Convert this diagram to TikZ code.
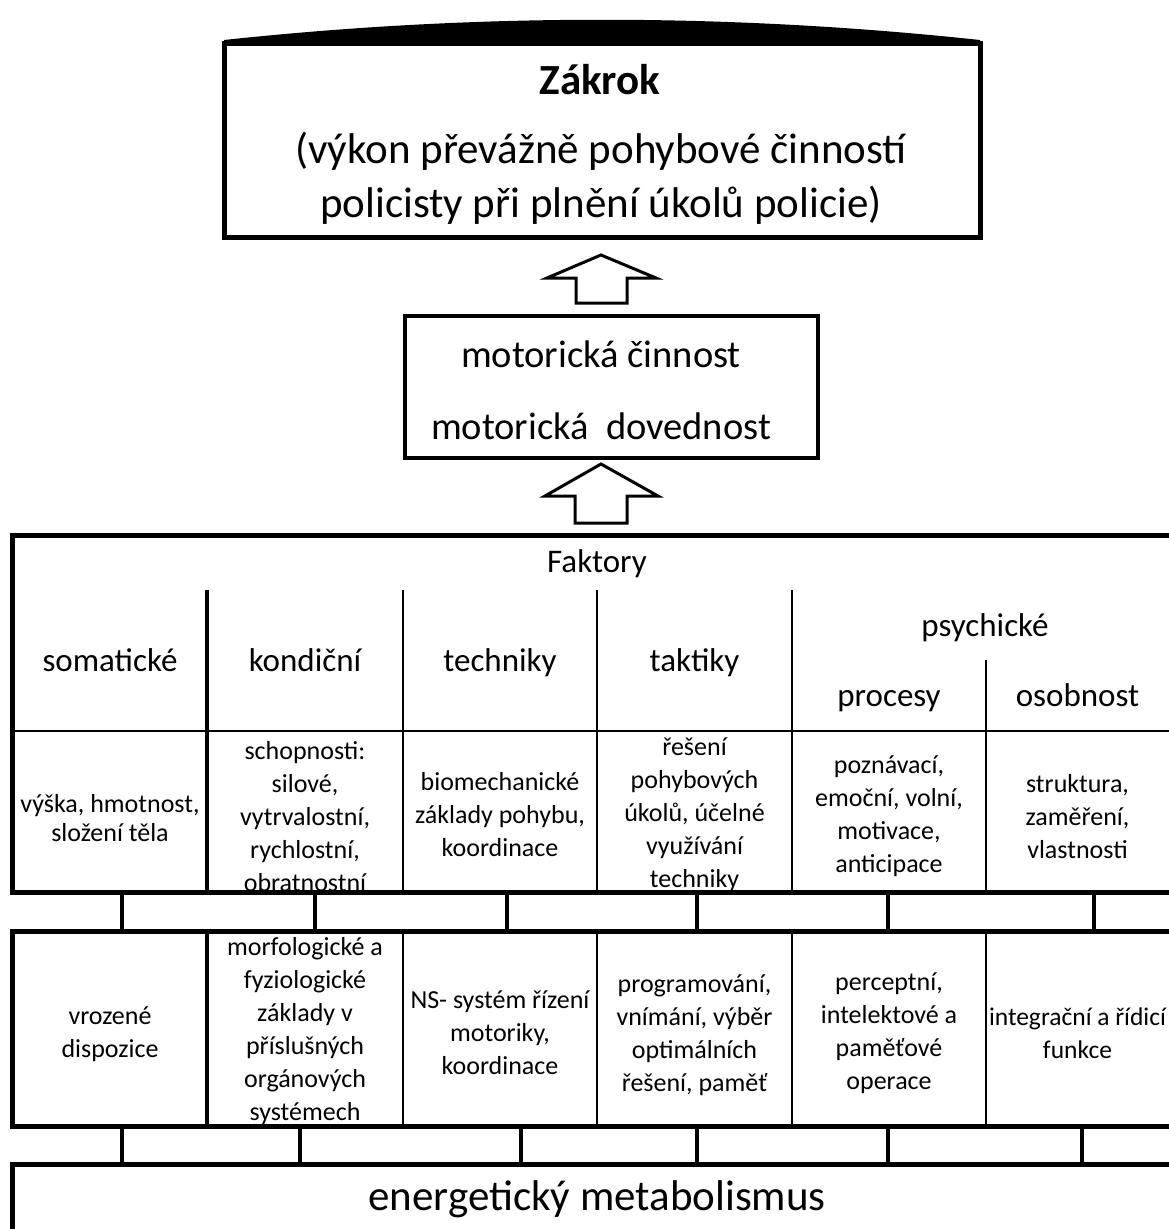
\documentclass[tikz,border=0pt]{standalone}
\usepackage{fontspec}
\setmainfont{Carlito}
\begin{document}
\begin{tikzpicture}[x=1pt,y=-1pt,
  frameline/.style={line width=5pt},
  cellrule/.style={line width=2.2pt},
  mainrule/.style={line width=4pt},
  joint/.style={line width=3.5pt},
  celltext/.style={align=center, inner sep=0pt, font=\fontsize{26}{33}\selectfont},
  headtext/.style={inner sep=0pt, text height=24pt, text depth=8pt, font=\fontsize{33}{40}\selectfont},
  bigtext/.style={align=center, inner sep=0pt, font=\fontsize{43}{54}\selectfont},
  motortext/.style={align=center, inner sep=0pt, font=\fontsize{38.5}{72}\selectfont},
  uparrow/.style={draw, line width=3pt, fill=white, line join=miter}
]
% page
\fill[white] (0,0) rectangle (1169,1229);
\useasboundingbox (0,0) rectangle (1169,1229);

% ---------- top box: Zákrok ----------
\node[draw, frameline, minimum width=756pt, minimum height=194pt, inner sep=0pt] (zakrok) at (602,140) {};
\fill (224,45) -- (224,40) .. controls (476,13) and (728,13) .. (980,40) -- (980,45) -- cycle;
\node[bigtext, font=\fontsize{43}{54}\selectfont\bfseries] (zakroktitle) at (600,80) {Zákrok};
\node[bigtext] (zakroksub) at (601,178) {(výkon převážně pohybové činností\\policisty při plnění úkolů policie)};

% ---------- arrow up to Zákrok ----------
\draw[uparrow] (601,255) -- (656,278) -- (627,278) -- (627,303) -- (576,303) -- (576,278) -- (547,278) -- cycle;

% ---------- middle box ----------
\node[draw, mainrule, minimum width=413pt, minimum height=142pt, inner sep=0pt] (motor) at (611.5,387) {};
\node[motortext] (motortxt) at (601,390) {motorická činnost\\motorická\ \ dovednost};

% ---------- arrow up to the middle box ----------
\draw[uparrow] (601,464) -- (658,496) -- (627,496) -- (627,523) -- (575,523) -- (575,496) -- (545,496) -- cycle;

% ---------- table of factors ----------
\coordinate (fTL) at (12,535);
\coordinate (fBL) at (12,892);
\draw[frameline] (1169,535) -- (fTL) -- (fBL) -- (1169,892);
\draw[cellrule] (12,731) -- (1169,731);
\draw[mainrule] (207,590) -- (207,892);
\foreach \x in {403,597,792} \draw[cellrule] (\x,590) -- (\x,892);
\draw[cellrule] (986,660) -- (986,892);

\node[headtext] (faktory) at (597,564) {Faktory};
\node[headtext] (hsom) at (110,663) {somatické};
\node[headtext] (hkon) at (305,663) {kondiční};
\node[headtext] (htech) at (500,663) {techniky};
\node[headtext] (htak) at (694.5,663) {taktiky};
\node[headtext] (hpsy) at (985,628) {psychické};
\node[headtext] (hproc) at (889,698) {procesy};
\node[headtext] (hoso) at (1077.5,698) {osobnost};

\node[celltext, font=\fontsize{26}{29}\selectfont] (c11) at (110,818) {výška, hmotnost,\\složení těla};
\node[celltext] (c12) at (305,817) {schopnosti:\\silové,\\vytrvalostní,\\rychlostní,\\obratnostní};
\node[celltext] (c13) at (500,815) {biomechanické\\základy pohybu,\\koordinace};
\node[celltext] (c14) at (694.5,815) {řešení\\pohybových\\úkolů, účelné\\využívání\\techniky};
\node[celltext] (c15) at (889,816) {poznávací,\\emoční, volní,\\motivace,\\anticipace};
\node[celltext] (c16) at (1077.5,817) {struktura,\\zaměření,\\vlastnosti};

% ---------- joints between the two tables ----------
\foreach \x in {122,315,507,697,888,1094} \draw[joint] (\x,892) -- (\x,931);

% ---------- table of dispositions ----------
\coordinate (dTL) at (12,931);
\coordinate (dBL) at (12,1126);
\draw[frameline] (1169,931) -- (dTL) -- (dBL) -- (1169,1126);
\draw[mainrule] (207,931) -- (207,1126);
\foreach \x in {403,597,792,986} \draw[cellrule] (\x,931) -- (\x,1126);

\node[celltext] (d1) at (110,1034) {vrozené\\dispozice};
\node[celltext] (d2) at (305,1031) {morfologické a\\fyziologické\\základy v\\příslušných\\orgánových\\systémech};
\node[celltext] (d3) at (500,1033) {NS- systém řízení\\motoriky,\\koordinace};
\node[celltext] (d4) at (694.5,1035) {programování,\\vnímání, výběr\\optimálních\\řešení, paměť};
\node[celltext] (d5) at (889,1033) {perceptní,\\intelektové a\\paměťové\\operace};
\node[celltext, font=\fontsize{25.5}{33}\selectfont] (d6) at (1077.5,1033) {integrační a řídicí\\funkce};

% ---------- joints down to the metabolism bar ----------
\foreach \x in {122,300,521,697,888,1082} \draw[joint] (\x,1126) -- (\x,1164);

% ---------- energy metabolism bar ----------
\draw[frameline] (1169,1164) -- (12,1164) -- (12,1229);
\node[bigtext] (metab) at (597,1199) {energetický metabolismus};
\end{tikzpicture}
\end{document}
